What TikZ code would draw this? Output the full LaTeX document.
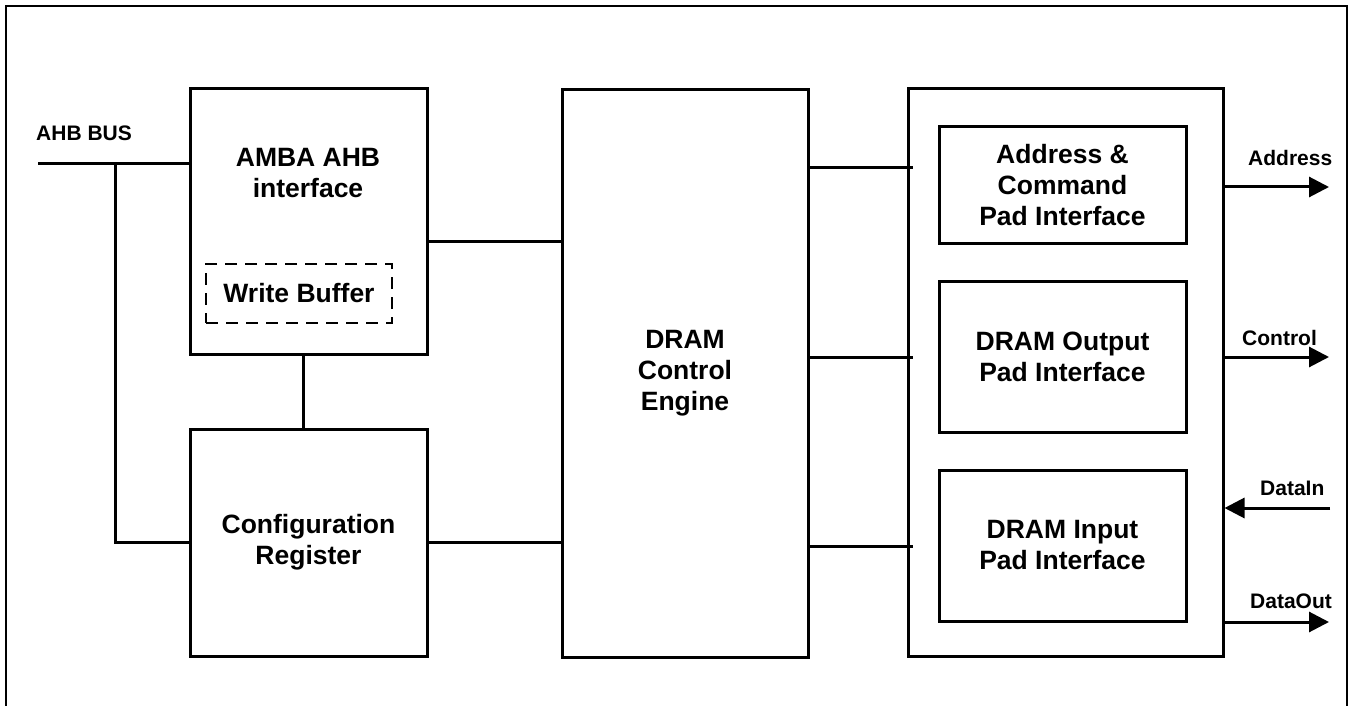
\documentclass[tikz,border=0pt]{standalone}
\usepackage{fontspec}
\setmainfont{Liberation Sans}
\usetikzlibrary{arrows.meta}
\begin{document}
\begin{tikzpicture}[x=1pt,y=-1pt,
  blk/.style={draw, line width=3pt, inner sep=0pt, align=center,
    font=\bfseries\fontsize{26.5}{31}\selectfont},
  dbox/.style={blk, line width=2pt, dash pattern=on 12pt off 8pt},
  wire/.style={line width=3pt},
  arr/.style={wire, -{Triangle[length=20pt,width=20pt]}},
  btxt/.style={align=center, inner sep=0pt, font=\bfseries\fontsize{26.5}{31}\selectfont},
  lbl/.style={inner sep=0pt, anchor=base west, font=\bfseries\fontsize{21}{25}\selectfont}]
\useasboundingbox (0,0) rectangle (1350,706);
\draw[line width=2.5pt] (6,707) -- (6,6) -- (1347,6) -- (1347,707);

% blocks
\node[blk, minimum width=237pt, minimum height=265pt] (amba) at (308.5,221.5) {};
\node[btxt] (ambat) at (308,173) {AMBA AHB\\interface};
\node[dbox, minimum width=186pt, minimum height=59pt] (wbuf) at (299,293.5) {Write Buffer};
\node[blk, minimum width=237pt, minimum height=227pt] (cfg) at (308.5,542.5) {Configuration\\Register};
\node[blk, minimum width=246pt, minimum height=567pt] (eng) at (685,373.5) {DRAM\\Control\\Engine};
\node[blk, minimum width=315pt, minimum height=567pt] (pad) at (1065.5,372.5) {};
\node[blk, minimum width=247pt, minimum height=116pt] (acp) at (1062.5,185) {Address \&\\Command\\Pad Interface};
\node[blk, minimum width=247pt, minimum height=151pt] (opi) at (1062.5,356.5) {DRAM Output\\Pad Interface};
\node[blk, minimum width=247pt, minimum height=151pt] (ipi) at (1062.5,545.5) {DRAM Input\\Pad Interface};

% bus side
\node[lbl] (ahb) at (36,141) {AHB BUS};
\coordinate (busL) at (38,164);
\coordinate (j) at (115,164);
\draw[wire] (busL) -- (busL -| amba.west);
\draw[wire] (j) |- (cfg.west);
\draw[wire] ([xshift=-5.5pt]amba.south) -- ([xshift=-5.5pt]cfg.north);

% to engine
\coordinate (y1) at (0,241);
\draw[wire] (amba.east |- y1) -- (eng.west |- y1);
\draw[wire] (cfg.east) -- (cfg.east -| eng.west);

% engine to pad block
\coordinate (e1) at (913,168);
\coordinate (e2) at (913,357);
\coordinate (e3) at (913,546);
\draw[wire] (eng.east |- e1) -- (e1);
\draw[wire] (eng.east |- e2) -- (e2);
\draw[wire] (eng.east |- e3) -- (e3);

% outputs
\coordinate (oA) at (1329,187);
\coordinate (oC) at (1329,357);
\coordinate (iD) at (1330,508);
\coordinate (oD) at (1329,622);
\draw[arr] (pad.east |- oA) -- (oA);
\draw[arr] (pad.east |- oC) -- (oC);
\draw[arr] (iD) -- (iD -| pad.east);
\draw[arr] (pad.east |- oD) -- (oD);
\node[lbl] (lA) at (1248,166) {Address};
\node[lbl] (lC) at (1242,345) {Control};
\node[lbl] (lI) at (1260,495) {DataIn};
\node[lbl] (lO) at (1250,608) {DataOut};
\end{tikzpicture}
\end{document}
